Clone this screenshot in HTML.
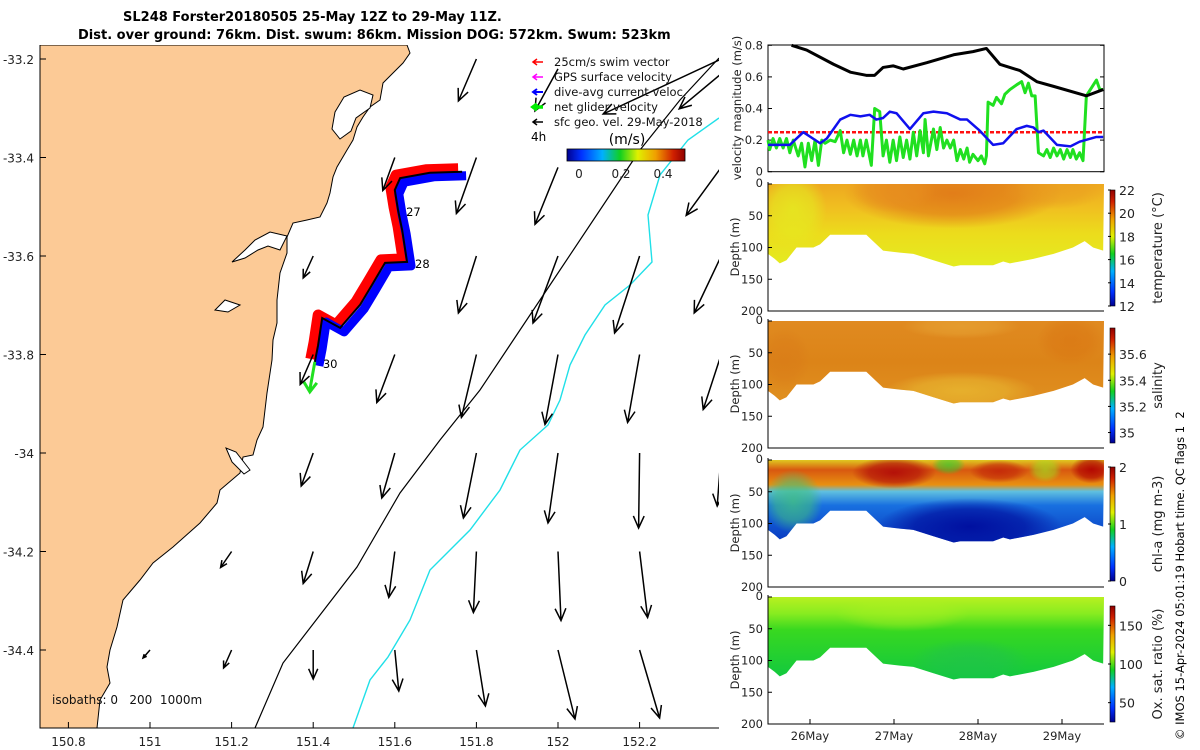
<!DOCTYPE html>
<html><head><meta charset="utf-8"><style>
html,body{margin:0;padding:0;background:#fff;}
svg{display:block;font-family:"DejaVu Sans","Liberation Sans",sans-serif;}
text{white-space:pre;}
</style></head><body>
<svg id="fig" width="1200" height="750" viewBox="0 0 1200 750" xmlns="http://www.w3.org/2000/svg">
<defs>
<linearGradient id="jet" x1="0" y1="1" x2="0" y2="0">
<stop offset="0" stop-color="#000090"/><stop offset="0.12" stop-color="#0030ff"/><stop offset="0.3" stop-color="#00b0ff"/><stop offset="0.45" stop-color="#10d020"/><stop offset="0.6" stop-color="#e0f000"/><stop offset="0.75" stop-color="#f0a000"/><stop offset="0.9" stop-color="#d02000"/><stop offset="1" stop-color="#900000"/>
</linearGradient>
<linearGradient id="jeth" x1="0" y1="0" x2="1" y2="0">
<stop offset="0" stop-color="#000090"/><stop offset="0.12" stop-color="#0030ff"/><stop offset="0.3" stop-color="#00b0ff"/><stop offset="0.45" stop-color="#10d020"/><stop offset="0.6" stop-color="#e0f000"/><stop offset="0.75" stop-color="#f0a000"/><stop offset="0.9" stop-color="#d02000"/><stop offset="1" stop-color="#900000"/>
</linearGradient>
<clipPath id="mapclip"><rect x="40" y="45" width="679" height="683"/></clipPath>
</defs>
<text x="123" y="21" font-size="13" font-weight="bold">SL248 Forster20180505 25-May 12Z to 29-May 11Z.</text>
<text x="78" y="39" font-size="13" font-weight="bold">Dist. over ground: 76km. Dist. swum: 86km. Mission DOG: 572km. Swum: 523km</text>
<g id="map"></g>
<g id="vel"></g>
<g id="sections"></g>
<text transform="translate(1184,740) rotate(-90)" font-size="11.5">© IMOS 15-Apr-2024 05:01:19 Hobart time. QC flags 1  2</text>
</svg>
<script>
// ---------- MAP DATA ----------
const lonTicks = [150.8, 151, 151.2, 151.4, 151.6, 151.8, 152, 152.2];
const latTicks = [-33.2, -33.4, -33.6, -33.8, -34, -34.2, -34.4];
const trackLon = [151.765,151.686,151.613,151.600,151.608,151.618,151.630,151.576,151.544,151.515,151.466,151.422,151.412,151.404];
const trackLat = [-33.429,-33.431,-33.442,-33.466,-33.507,-33.547,-33.612,-33.614,-33.659,-33.699,-33.746,-33.726,-33.781,-33.815];
const dayLabels = ["27","28","30"];
const dayLabelIdx = [4,6,13];
const arrowLon = [151.8,152.0,152.4,152.4, 151.6,151.8,152.0,152.4, 151.4,151.8,152.0,152.2,152.4, 151.4,151.6,151.8,152.0,152.2,152.4, 151.4,151.6,151.8,152.0,152.2,152.4, 151.2,151.4,151.6,151.8,152.0,152.2, 151.0,151.2,151.4,151.6,151.8,152.0,152.2];
const arrowLat = [-33.2,-33.22,-33.2,-33.23, -33.4,-33.4,-33.42,-33.42, -33.6,-33.6,-33.6,-33.6,-33.6, -33.8,-33.8,-33.8,-33.8,-33.8,-33.8, -34,-34,-34,-34,-34,-34, -34.2,-34.2,-34.2,-34.2,-34.2,-34.2, -34.4,-34.4,-34.4,-34.4,-34.4,-34.4,-34.4];
const arrowU = [-0.18,-0.23,-1.18,-0.42, -0.12,-0.2,-0.23,-0.35, -0.1,-0.18,-0.25,-0.25,-0.27, -0.13,-0.18,-0.15,-0.13,-0.12,-0.18, -0.12,-0.13,-0.13,-0.1,-0.01,-0.04, -0.11,-0.1,-0.06,-0.03,0.03,0.08, -0.07,-0.08,0,0.04,0.09,0.17,0.2];
const arrowV = [-0.42,-0.42,-0.55,-0.35, -0.33,-0.56,-0.57,-0.48, -0.22,-0.57,-0.67,-0.77,-0.57, -0.3,-0.48,-0.63,-0.7,-0.68,-0.55, -0.33,-0.45,-0.65,-0.7,-0.75,-0.53, -0.16,-0.32,-0.46,-0.61,-0.69,-0.66, -0.08,-0.18,-0.29,-0.41,-0.56,-0.69,-0.68];

// ---------- VELOCITY DATA (days since 25-May 12Z) ----------
const velTicks = [0, 0.2, 0.4, 0.6, 0.8];
const blackT = [0.28,0.46,0.78,0.98,1.17,1.27,1.37,1.49,1.61,1.89,2.21,2.44,2.60,2.76,3.0,3.2,3.4,3.79,3.99];
const blackV = [0.8,0.77,0.68,0.63,0.61,0.61,0.66,0.67,0.65,0.69,0.74,0.76,0.78,0.68,0.64,0.57,0.54,0.48,0.52];
const blueT = [0,0.26,0.42,0.62,0.70,0.86,0.98,1.10,1.21,1.29,1.37,1.45,1.53,1.69,1.85,1.97,2.13,2.29,2.37,2.52,2.68,2.80,2.96,3.08,3.16,3.22,3.28,3.44,3.60,3.71,3.91,3.99];
const blueV = [0.17,0.17,0.25,0.18,0.21,0.33,0.36,0.35,0.36,0.33,0.34,0.38,0.37,0.27,0.37,0.38,0.37,0.33,0.33,0.26,0.17,0.18,0.27,0.29,0.28,0.25,0.26,0.17,0.16,0.19,0.22,0.22];
const greenT = [0,0.02,0.06,0.10,0.14,0.18,0.22,0.26,0.30,0.36,0.40,0.44,0.48,0.52,0.56,0.60,0.64,0.68,0.74,0.80,0.86,0.90,0.94,0.98,1.02,1.06,1.10,1.13,1.17,1.23,1.27,1.33,1.37,1.41,1.45,1.49,1.53,1.57,1.61,1.65,1.69,1.73,1.77,1.81,1.85,1.87,1.91,1.97,2.01,2.05,2.09,2.13,2.17,2.21,2.25,2.29,2.33,2.37,2.40,2.44,2.50,2.54,2.58,2.60,2.62,2.68,2.72,2.78,2.82,2.88,2.96,3.02,3.06,3.10,3.14,3.18,3.22,3.28,3.32,3.36,3.40,3.44,3.48,3.52,3.56,3.60,3.63,3.67,3.71,3.75,3.79,3.85,3.91,3.95,3.99];
const greenV = [0.2,0.14,0.21,0.15,0.21,0.15,0.21,0.12,0.2,0.1,0.18,0.03,0.18,0.07,0.2,0.04,0.2,0.18,0.2,0.19,0.26,0.12,0.2,0.11,0.2,0.1,0.2,0.1,0.2,0.04,0.4,0.38,0.1,0.2,0.06,0.2,0.07,0.22,0.09,0.2,0.08,0.25,0.1,0.26,0.12,0.33,0.1,0.27,0.14,0.28,0.15,0.2,0.15,0.2,0.07,0.14,0.08,0.15,0.06,0.11,0.07,0.1,0.05,0.1,0.44,0.42,0.47,0.43,0.49,0.52,0.55,0.57,0.5,0.56,0.48,0.48,0.12,0.1,0.14,0.09,0.15,0.1,0.14,0.08,0.14,0.09,0.14,0.08,0.12,0.07,0.48,0.53,0.58,0.52,0.52];
const swimV = 0.25;

// ---------- SECTION DATA ----------
const dateLabels = ["26May","27May","28May","29May"];
const dateT = [0.5,1.5,2.5,3.5];
const depthTicks = [0,50,100,150,200];
const bottomT = [0,0.08,0.14,0.22,0.28,0.34,0.54,0.62,0.74,1.17,1.25,1.37,1.57,1.73,1.97,2.21,2.29,2.68,2.80,2.88,3.16,3.40,3.63,3.77,3.87,3.99];
const bottomD = [110,118,125,120,110,100,100,95,80,80,90,105,108,110,120,130,128,128,122,125,118,110,100,90,100,105];
const tempTicks = [12,14,16,18,20,22];
const salTicks = [35,35.2,35.4,35.6];
const chlTicks = [0,1,2];
const oxTicks = [50,100,150];

// ---------- HELPERS ----------
const NS = "http://www.w3.org/2000/svg";
function mk(tag, parent, attrs){ const e=document.createElementNS(NS,tag); for(const k in attrs) e.setAttribute(k,attrs[k]); parent.appendChild(e); return e; }
const X = lon => 150 + (lon-151)*408;
const Y = lat => 453 - (lat+34)*492.5;
const TX = t => 768 + t*84;
const VY = v => 171.7 - v*158;

// ---------- MAP ----------
const map = document.getElementById('map');
const mg = mk('g', map, {'clip-path':'url(#mapclip)'});
const coast = "M40,45 L407,45 410,53 403,63 393,73 383,83 380,100 370,107 363,117 357,127 353,140 347,150 337,167 333,177 330,193 327,203 320,217 307,220 293,223 287,237 287,253 280,273 277,300 277,323 273,340 272,360 267,393 263,427 257,440 253,455 243,457 240,473 220,490 217,503 200,523 173,547 153,563 140,580 123,600 117,627 110,650 107,667 110,683 100,700 97,728 40,728 Z";
let land = mk('path', mg, {d:coast, fill:'#fcca96', stroke:'#000', 'stroke-width':1});


let lake = mk('path', mg, {d:"M335,112 L344,97 360,90 373,95 370,108 356,118 351,131 340,139 332,129 Z", fill:'#fff', stroke:'#000','stroke-width':1});


let est1 = mk('path', mg, {d:"M287,236 L270,232 255,240 245,250 232,262 245,258 258,250 268,246 280,250 Z M250,470 L236,452 226,448 232,462 244,474 Z M240,305 L225,300 215,310 228,312 Z", fill:'#fff', stroke:'#000','stroke-width':1});


let iso200 = mk('path', mg, {d:"M255,728 L283,663 357,567 400,493 440,440 480,390 520,330 560,270 600,210 640,150 680,100 719,58", fill:'none', stroke:'#000','stroke-width':1.2});


let iso1000 = mk('path', mg, {d:"M353,728 L370,680 388,657 410,620 430,570 470,530 500,490 520,450 548,425 560,400 570,365 585,335 605,305 630,285 652,262 648,215 660,175 688,140 719,118", fill:'none', stroke:'#20e0e8','stroke-width':1.4});



function trackPts(dx,dy){ return trackLon.map((l,i)=>(X(l)+dx)+','+(Y(trackLat[i])+dy)).join(' '); }
let redBand = mk('polyline', mg, {points:trackPts(-4,-3), fill:'none', stroke:'#ff0000','stroke-width':11,'stroke-linejoin':'round'});


let blueBand = mk('polyline', mg, {points:trackPts(4,4), fill:'none', stroke:'#0000ff','stroke-width':9,'stroke-linejoin':'round'});


let track = mk('polyline', mg, {points:trackPts(0,0), fill:'none', stroke:'#000','stroke-width':2});


const last = trackLon.length-1;
let gx=X(trackLon[last]), gy=Y(trackLat[last]);
let ga = mk('path', mg, {d:`M${gx},${gy} L${gx-5},${gy+28} M${gx-11},${gy+20} L${gx-5},${gy+30} L${gx+2},${gy+21}`, fill:'none', stroke:'#20e020','stroke-width':3});


dayLabels.forEach((s,i)=>{
  const k=dayLabelIdx[i];
  const t=mk('text', mg, {x:X(trackLon[k])+8, y:Y(trackLat[k])+6, 'font-size':11.5});
  t.textContent=s;
  
  
});

const K=100;
arrowLon.forEach((l,i)=>{
  const x0=X(l), y0=Y(arrowLat[i]);
  const dx=arrowU[i]*K, dy=-arrowV[i]*K;
  const x1=x0+dx, y1=y0+dy;
  const len=Math.hypot(dx,dy), ux=dx/len, uy=dy/len;
  const h=Math.min(12, len*0.35), w=h*0.45;
  const bx=x1-ux*h, by=y1-uy*h;
  const d=`M${x0},${y0} L${x1},${y1} M${bx-uy*w},${by+ux*w} L${x1},${y1} L${bx+uy*w},${by-ux*w}`;
  const a=mk('path', mg, {d:d, fill:'none', stroke:'#000','stroke-width':1.5});
  
  
});

let ax = mk('path', map, {d:"M40,45 L40,728 L719,728", fill:'none', stroke:'#000','stroke-width':1});


lonTicks.forEach(v=>{
  const x=X(v);
  mk('line', map, {x1:x,y1:728,x2:x,y2:722,stroke:'#000'});
  const t=mk('text', map, {x:x, y:746, 'text-anchor':'middle','font-size':12,fill:'#222'});
  t.textContent=String(v);
  
  
});
latTicks.forEach(v=>{
  const y=Y(v);
  mk('line', map, {x1:40,y1:y,x2:46,y2:y,stroke:'#000'});
  const t=mk('text', map, {x:34, y:y+5, 'text-anchor':'end','font-size':12,fill:'#222'});
  t.textContent=String(v);
  
  
});
let isoT = mk('text', map, {x:52,y:704,'font-size':12,fill:'#111'});
isoT.textContent="isobaths: 0   200  1000m";



const legNames=["25cm/s swim vector","GPS surface velocity","dive-avg current veloc.","net glider velocity","sfc geo. vel. 29-May-2018"];
const legColors=["#ff0000","#ff00ff","#0000ff","#00ee00","#000000"];
const legW=[1.5,1.5,2,3.5,1.5];
legNames.forEach((s,i)=>{
  const y=62+i*15;
  const g=mk('g', map, {});
  
  
  mk('path', g, {d:`M543,${y} L533,${y} M537,${y-3} L533,${y} L537,${y+3}`, stroke:legColors[i],'stroke-width':legW[i],fill:'none'});
  const t=mk('text', g, {x:554,y:y+4,'font-size':11.5,fill:'#111'}); t.textContent=s;
});
let h4=mk('text', map, {x:531,y:141,'font-size':12}); h4.textContent="4h";


let ms=mk('text', map, {x:627,y:144,'text-anchor':'middle','font-size':14}); ms.textContent="(m/s)";


let scb=mk('rect', map, {x:567,y:149,width:118,height:12,fill:'url(#jeth)',stroke:'#000','stroke-width':0.8});


const spdTicks=[0,0.2,0.4];
spdTicks.forEach(v=>{
  const x=579+v*210;
  const t=mk('text', map, {x:x,y:178,'text-anchor':'middle','font-size':12,fill:'#222'}); t.textContent=String(v);
  
  
});

// ---------- VELOCITY PANEL ----------
const vel=document.getElementById('vel');
let vbox=mk('rect', vel, {x:768,y:45,width:336,height:126.7,fill:'none',stroke:'#000','stroke-width':1});


velTicks.forEach(v=>{
  const y=VY(v);
  mk('line', vel, {x1:768,y1:y,x2:772,y2:y,stroke:'#000'});
  mk('line', vel, {x1:1104,y1:y,x2:1100,y2:y,stroke:'#000'});
  const t=mk('text', vel, {x:763,y:y+4,'text-anchor':'end','font-size':11.5,fill:'#222'}); t.textContent=String(v);
  
  
});
let vyl=mk('text', vel, {transform:'translate(741,108) rotate(-90)','text-anchor':'middle','font-size':11.5,fill:'#222'});
vyl.textContent="velocity magnitude (m/s)";


function line(ts,vs,color,w,name,dash){
  const p=mk('polyline', vel, {points:ts.map((t,i)=>TX(t)+','+VY(vs[i])).join(' '),fill:'none',stroke:color,'stroke-width':w,'stroke-linejoin':'round'});
  if(dash) p.setAttribute('stroke-dasharray',dash);
  
  
}
line([0,4],[swimV,swimV],'#ff1010',2.5,'swim-speed-line','4 2');
line(greenT,greenV,'#20e020',3,'net-glider-speed-line');
line(blueT,blueV,'#1010ee',2.5,'current-speed-line');
line(blackT,blackV,'#000',3,'geostrophic-speed-line');

// ---------- SECTIONS ----------
const sec=document.getElementById('sections');
const panels=[
 {top:184,name:'temperature',label:'temperature (°C)',ticks:tempTicks,min:12,max:22,cb:[190,306],
  grad:[[0,'#eea820'],[0.3,'#f0c020'],[0.6,'#ecdc1c'],[1,'#e4ec20']],
  patches:[[2.2,15,1.3,55,'#e07818',0.9],[1.5,10,0.5,35,'#e89020',0.7],[3.4,10,0.6,30,'#e89a20',0.6],[0.3,40,0.4,60,'#e4ec20',0.8]]},
 {top:321,name:'salinity',label:'salinity',ticks:salTicks,min:34.92,max:35.8,cb:[328,443],
  grad:[[0,'#e08a20'],[0.5,'#dc8418'],[1,'#e09020']],
  patches:[[2.3,110,0.9,30,'#e8b830',0.8],[2.3,8,0.7,20,'#e8a838',0.6],[3.6,30,0.4,40,'#d87010',0.5],[0.2,60,0.3,50,'#d87818',0.5]]},
 {top:460,name:'chl-a',label:'chl-a (mg m-3)',ticks:chlTicks,min:0,max:2,cb:[467,581],
  grad:[[0,'#e0c820'],[0.12,'#d85810'],[0.3,'#e89010'],[0.38,'#60c0e0'],[0.55,'#1870e0'],[1,'#0838c0']],
  patches:[[2.4,105,1.1,45,'#0010a0',1],[1.5,20,0.5,25,'#b00808',0.9],[2.75,18,0.35,18,'#c02008',0.8],[3.85,15,0.25,22,'#b00000',0.9],[0.3,65,0.35,50,'#40c080',0.8],[2.15,8,0.2,15,'#30d030',0.7],[3.3,15,0.2,20,'#a0e020',0.7]]},
 {top:597,name:'oxygen',label:'Ox. sat. ratio (%)',ticks:oxTicks,min:25,max:175,cb:[606,722],
  grad:[[0,'#b8f020'],[0.2,'#88ec20'],[0.4,'#38d820'],[1,'#10c840']],
  patches:[[1.6,25,0.8,30,'#b0f020',0.5],[2.4,100,0.7,35,'#20c050',0.6]]}
];
const defs=document.querySelector('defs');
const DS=0.635;
panels.forEach((P,pi)=>{
  const g=mk('g', sec, {});
  
  
  const cid='clip'+pi;
  const cp=mk('clipPath', defs, {id:cid});
  const pts=[TX(0)+','+P.top].concat(bottomT.map((t,i)=>TX(t)+','+(P.top+bottomD[i]*DS))).concat([TX(4)+','+P.top]);
  mk('polygon', cp, {points:pts.join(' ')});
  const gid='grad'+pi;
  const lg=mk('linearGradient', defs, {id:gid,gradientUnits:'userSpaceOnUse',x1:0,y1:P.top,x2:0,y2:P.top+130*DS});
  P.grad.forEach(s=>mk('stop', lg, {offset:s[0],'stop-color':s[1]}));
  const fg=mk('g', g, {'clip-path':'url(#'+cid+')'});
  const base=mk('rect', fg, {x:768,y:P.top,width:336,height:130*DS,fill:'url(#'+gid+')'});
  
  
  P.patches.forEach((q,qi)=>{
    const rid='rg'+pi+'_'+qi;
    const rg=mk('radialGradient', defs, {id:rid});
    mk('stop', rg, {offset:0,'stop-color':q[4],'stop-opacity':q[5]});
    mk('stop', rg, {offset:0.6,'stop-color':q[4],'stop-opacity':q[5]*0.7});
    mk('stop', rg, {offset:1,'stop-color':q[4],'stop-opacity':0});
    const e=mk('ellipse', fg, {cx:TX(q[0]),cy:P.top+q[1]*DS,rx:q[2]*84,ry:q[3]*DS,fill:'url(#'+rid+')'});
    
    
  });
  mk('path', g, {d:`M768,${P.top-2} L768,${P.top+200*DS} L1104,${P.top+200*DS}`,fill:'none',stroke:'#000','stroke-width':1});
  depthTicks.forEach(d=>{
    const y=P.top+d*DS;
    mk('line', g, {x1:768,y1:y,x2:772,y2:y,stroke:'#000'});
    const t=mk('text', g, {x:763,y:y+(d===0?3:4),'text-anchor':'end','font-size':11.5,fill:'#222'}); t.textContent=String(d);
    
    
  });
  const yl=mk('text', g, {transform:`translate(739,${P.top+63}) rotate(-90)`,'text-anchor':'middle','font-size':11.5,fill:'#222'});
  yl.textContent="Depth (m)";
  
  
  const cb=mk('rect', g, {x:1110,y:P.cb[0],width:5,height:P.cb[1]-P.cb[0],fill:'url(#jet)',stroke:'#000','stroke-width':0.6});
  
  
  P.ticks.forEach(v=>{
    const y=P.cb[1]-(v-P.min)/(P.max-P.min)*(P.cb[1]-P.cb[0]);
    mk('line', g, {x1:1108,y1:y,x2:1111,y2:y,stroke:'#000'});
    const t=mk('text', g, {x:1119,y:y+5,'font-size':12.5,fill:'#222'}); t.textContent=String(v);
    
    
  });
  const cl=mk('text', g, {transform:`translate(1162,${(P.cb[0]+P.cb[1])/2}) rotate(-90)`,'text-anchor':'middle','font-size':13,fill:'#222'});
  cl.textContent=P.label;
  
  
});
const lastTop=panels[3].top+200*DS;
dateLabels.forEach((s,i)=>{
  const x=TX(dateT[i]);
  mk('line', sec, {x1:x,y1:lastTop,x2:x,y2:lastTop-5,stroke:'#000'});
  const t=mk('text', sec, {x:x,y:lastTop+16,'text-anchor':'middle','font-size':11.5,fill:'#222'}); t.textContent=s;
  
  
});
</script>
</body></html>
